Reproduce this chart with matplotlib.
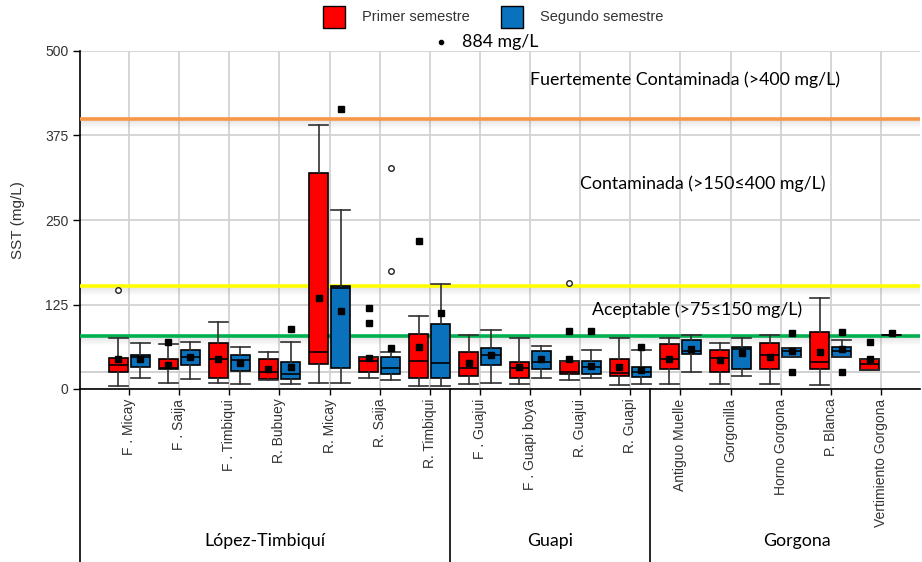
import matplotlib
matplotlib.use('Agg')
import matplotlib.pyplot as plt
from matplotlib.patches import Rectangle
from matplotlib.transforms import blended_transform_factory

# sites and groups
sites = ['F . Micay', 'F . Saija', 'F . Timbiqui', 'R. Bubuey', 'R. Micay',
         'R. Saija', 'R. Timbiqui', 'F . Guajui', 'F . Guapi boya',
         'R. Guajui', 'R. Guapi', 'Antiguo Muelle', 'Gorgonilla',
         'Horno Gorgona', 'P. Blanca', 'Vertimiento Gorgona']
groups = ['López-Timbiquí', 'Guapi', 'Gorgona']
group_sizes = [7, 4, 5]

# Primer semestre (red)
s1_lo = [5, 9, 9, 13, 9, 17, 5, 7.4, 7.4, 13, 5.4, 7.4, 7.4, 7.4, 5.4, 27.6]
s1_q1 = [25, 29.5, 17, 15, 37, 25.6, 16, 19, 16, 21.7, 19.7, 29.5, 25, 30, 30, 27.6]
s1_med = [35, 31, 45, 25, 55, 41, 42, 31.5, 31.5, 25, 23, 44, 45.3, 50.7, 40, 36.5]
s1_q3 = [46, 44, 68, 44, 320, 47.7, 81, 54, 39.4, 41.4, 44, 66, 57.6, 68.4, 85, 44.3]
s1_hi = [75, 66, 99, 54, 391, 48, 108, 80, 75, 41.4, 75, 75, 68.4, 80, 134, 44.3]
s1_mean = [44, 35, 45, 29.5, 135, 45.8, 62.5, 39, 32.5, 44.8, 33, 44.8, 42.4, 47.7, 54.6, 44]
s1_out = [[], [70], [], [], [], [98, 120], [219], [], [], [86], [], [], [], [], [], [69.4]]
s1_ext = [[146], [], [], [], [], [], [], [], [], [157], [], [], [], [], [], []]

# Segundo semestre (blue)
s2_lo = [17, 15, 7, 7, 9, 13, 5, 9, 15.8, 15.8, 7, 25, 19, 47.7, 47.7, 80]
s2_q1 = [33, 35.4, 26.6, 15, 31.5, 21.7, 16, 35.4, 29.5, 21.7, 18, 51.7, 29, 47.7, 47.7, 80]
s2_med = [47.7, 47.7, 43, 22, 150, 30.5, 38, 51, 39.4, 32, 25, 56.6, 58.6, 55.5, 56, 80]
s2_q3 = [51, 57.6, 50, 39.4, 152, 47.7, 96, 60, 56.6, 41.4, 33, 72.4, 62.5, 60, 61.6, 80]
s2_hi = [68, 70, 61.6, 70, 265, 54, 156, 88, 63.5, 58, 57.6, 80, 75, 60, 72, 80]
s2_mean = [44, 47, 38, 32.5, 115.7, 61, 112, 51, 43.8, 34.5, 28.6, 59, 52.7, 56.6, 58.6, 82.5]
s2_out = [[], [], [], [89], [414], [], [], [], [], [85.7], [62.5], [], [], [24.6, 83], [24.6, 83.7], []]
s2_ext = [[], [], [], [], [], [174, 327], [], [], [], [], [], [], [], [], [], []]

# quality thresholds (mg/L) as drawn
limits = [400, 153, 78]
limit_colors = ['#F79646', '#FFFF00', '#00B050']
max_label = '884 mg/L'

RED = '#FF0000'
BLUE = '#0A72BC'

fig = plt.figure(figsize=(9.22, 5.62), dpi=100)
ax = fig.add_axes([80 / 922, 1 - 389 / 562, 840 / 922, 338 / 562])

n = len(sites)
xs = list(range(n))


def stats(lo, q1, med, q3, hi, mean, out):
    res = []
    for i in range(len(lo)):
        res.append(dict(whislo=lo[i], q1=q1[i], med=med[i], q3=q3[i],
                        whishi=hi[i], mean=mean[i], fliers=out[i]))
    return res


off = 0.22
w = 0.38
common = dict(widths=w, capwidths=w, showmeans=True, patch_artist=True,
              medianprops=dict(color='black', lw=1.2),
              whiskerprops=dict(color='#303030', lw=1.2),
              capprops=dict(color='#303030', lw=1.2),
              meanprops=dict(marker='s', markerfacecolor='black',
                             markeredgecolor='black', markersize=5),
              flierprops=dict(marker='s', markerfacecolor='black',
                              markeredgecolor='black', markersize=5))

for st, pos, col in [(stats(s1_lo, s1_q1, s1_med, s1_q3, s1_hi, s1_mean, s1_out),
                      [x - off for x in xs], RED),
                     (stats(s2_lo, s2_q1, s2_med, s2_q3, s2_hi, s2_mean, s2_out),
                      [x + off for x in xs], BLUE)]:
    b = ax.bxp(st, positions=pos, boxprops=dict(facecolor=col, edgecolor='black', lw=1.2),
               **common)
    for a in b['boxes'] + b['medians'] + b['whiskers'] + b['caps'] + b['means'] + b['fliers']:
        a.set_zorder(4)

for ext, sgn in [(s1_ext, -1), (s2_ext, 1)]:
    for i, vals in enumerate(ext):
        for v in vals:
            ax.plot(i + sgn * off, v, 'o', ms=4, mfc='white', mec='#222222',
                    mew=1.0, zorder=5)

# threshold lines with soft shadow
px = 500 / 338.0
for lim, c in zip(limits, limit_colors):
    for k in range(1, 9):
        ax.axhline(lim - k * px, color='#808080', alpha=0.14 * (9 - k) / 8,
                   lw=1.0, zorder=2.5)
    ax.axhline(lim, color=c, lw=2.6, zorder=3)

ax.set_xlim(-0.98, 15.78)
ax.set_ylim(0, 500)
ax.set_yticks([0, 125, 250, 375, 500])
ax.set_xticks(xs)
ax.set_xticklabels(sites, rotation=90, fontsize=10, color='#333333',
                   family=['Liberation Sans', 'DejaVu Sans'])
ax.tick_params(axis='y', labelsize=10, labelcolor='#333333', length=5,
               width=1, color='black')
ax.tick_params(axis='x', length=4, width=1, color='black', pad=3)
for t in ax.get_yticklabels():
    t.set_family(['Liberation Sans', 'DejaVu Sans'])
ax.grid(True, color='#D0D0D0', lw=1.2)
ax.axhline(25, color='#C8C8C8', lw=1.2, zorder=0.5)
ax.set_axisbelow(True)
for s in ['top', 'right']:
    ax.spines[s].set_visible(False)
ax.spines['left'].set_linewidth(1.2)
ax.spines['bottom'].set_linewidth(1.2)
ax.set_ylabel('SST (mg/L)', fontsize=11, color='#333333',
              family=['Liberation Sans', 'DejaVu Sans'], labelpad=14)

# group separators and labels
trans = blended_transform_factory(ax.transData, ax.transAxes)
edges = [-0.98]
start = 0
for g in group_sizes:
    start += g
    edges.append(start - 0.6)
edges[-1] = 15.78
for e in edges[:-1]:
    ax.plot([e, e], [0, -0.6], color='black', lw=1.2, transform=trans,
            clip_on=False)
label_x = [(edges[0] + edges[1]) / 2, (edges[1] + edges[2]) / 2, 13.33]
for g, gx in zip(groups, label_x):
    ax.text(gx, -0.45, g, transform=trans, ha='center', va='center',
            fontsize=12.8, family=['Lato', 'DejaVu Sans'])

# annotations
ann = dict(ha='center', va='center', fontsize=12.8, family=['Lato', 'DejaVu Sans'],
           zorder=6)
ax.text(11.1, 458, 'Fuertemente Contaminada (>400 mg/L)', **ann)
ax.text(11.45, 304, 'Contaminada (>150≤400 mg/L)', **ann)
ax.text(11.33, 117, 'Aceptable (>75≤150 mg/L)', **ann)
ax.plot(6.22, 513, 'o', color='black', ms=3, clip_on=False)
ax.text(6.64, 513, max_label, ha='left', va='center', fontsize=12.8,
        family=['Lato', 'DejaVu Sans'], clip_on=False)

# legend
for (x0, col, lab) in [(323, RED, 'Primer semestre'), (501, BLUE, 'Segundo semestre')]:
    fig.patches.append(Rectangle((x0 / 922, 1 - 28 / 562), 22 / 922, 22 / 562,
                                 transform=fig.transFigure, facecolor=col,
                                 edgecolor='black', lw=1.0))
    fig.text((x0 + 39) / 922, 1 - 17 / 562, lab, ha='left', va='center',
             fontsize=10.5, color='#333333', family=['Liberation Sans', 'DejaVu Sans'])

fig.savefig('out.png', dpi=100)
